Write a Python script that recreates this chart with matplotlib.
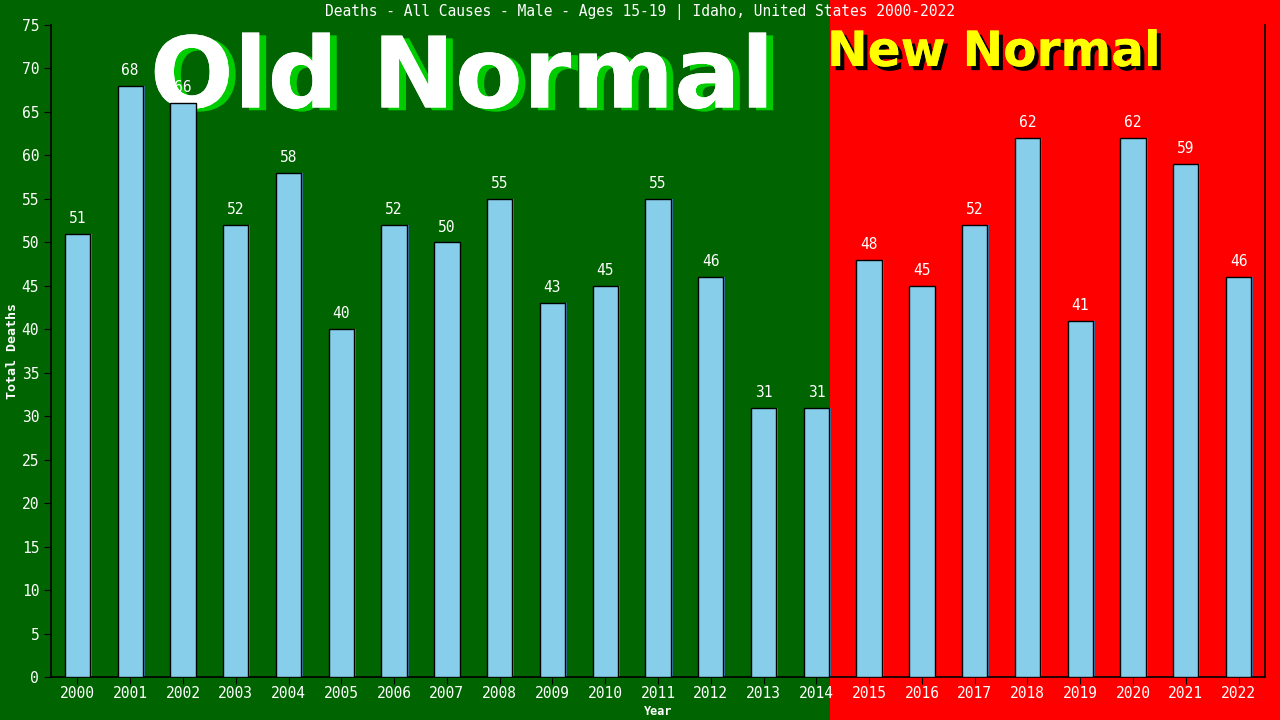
import matplotlib
matplotlib.use("Agg")
import matplotlib.pyplot as plt
import matplotlib.patheffects as pe
from matplotlib.patches import Rectangle
import numpy as np

years = [str(y) for y in range(2000, 2023)]
deaths = [51, 68, 66, 52, 58, 40, 52, 50, 55, 43, 45, 55, 46, 31, 31,
          48, 45, 52, 62, 41, 62, 59, 46]
split_idx = 15  # first "new normal" year (2015)

GREEN = "#006400"
RED = "#ff0000"
BAR = "#87ceeb"
SHADOW = "#4682b4"
MONO = "DejaVu Sans Mono"

fig = plt.figure(figsize=(12.8, 7.2), dpi=100, facecolor=GREEN)
ax = fig.add_axes([51/1280, 43/720, 1214/1280, 652/720])
ax.set_facecolor("none")

x = np.arange(len(years))
ax.set_xlim(-0.5, len(years) - 0.5)
ax.set_ylim(0, 75)

# red background for the new normal part, full figure height
bx = ax.transData.transform((split_idx - 0.75, 0))[0]
bx = fig.transFigure.inverted().transform((bx, 0))[0]
fig.patches.append(Rectangle((bx, 0), 1 - bx, 1, transform=fig.transFigure,
                             facecolor=RED, edgecolor="none", zorder=-10))

# big banner texts sit behind the bars
ax.text(462/1280, 1 - 80/720, "Old Normal", transform=fig.transFigure,
        ha="center", va="center", color="white", fontsize=71, fontweight="bold",
        family="DejaVu Sans", zorder=1, clip_on=False,
        path_effects=[pe.withSimplePatchShadow(offset=(5, -2), shadow_rgbFace="#00cc00", alpha=1),
                      pe.Normal()])
ax.text(994/1280, 1 - 52/720, "New Normal", transform=fig.transFigure,
        ha="center", va="center", color="yellow", fontsize=35, fontweight="bold",
        family="DejaVu Sans", zorder=1, clip_on=False,
        path_effects=[pe.withSimplePatchShadow(offset=(3, -3), shadow_rgbFace="black", alpha=1),
                      pe.Normal()])

w = 0.48
ax.bar(x + 0.035, deaths, width=w, color=SHADOW, edgecolor="none", zorder=2)
ax.bar(x, deaths, width=w, color=BAR, edgecolor="black", linewidth=1, zorder=3)

for xi, v in zip(x, deaths):
    ax.text(xi, v + 0.9, str(v), ha="center", va="bottom", color="white",
            fontsize=10.5, family=MONO, zorder=4)

ax.set_xticks(x)
ax.set_xticklabels(years)
ax.set_yticks(range(0, 76, 5))
ax.tick_params(colors="black", labelcolor="white", labelsize=10.5, length=5)
ax.tick_params(axis="x", pad=1.5)
for lab in ax.get_xticklabels() + ax.get_yticklabels():
    lab.set_family(MONO)

ax.spines["top"].set_visible(False)
for s in ["left", "bottom", "right"]:
    ax.spines[s].set_color("black")
    ax.spines[s].set_linewidth(1.2)

ax.set_xlabel("Year", color="white", fontsize=8.5, family=MONO, fontweight="bold")
ax.set_ylabel("Total Deaths", color="white", fontsize=9.5, family=MONO, fontweight="bold")
ax.xaxis.set_label_coords(0.5, -0.043)
ax.yaxis.set_label_coords(-0.026, 0.5)

fig.text(0.5, 0.983, "Deaths - All Causes - Male - Ages 15-19 | Idaho, United States 2000-2022",
         ha="center", va="center", color="white", fontsize=10.5, family=MONO)

fig.savefig("out.png", dpi=100, facecolor=GREEN)
